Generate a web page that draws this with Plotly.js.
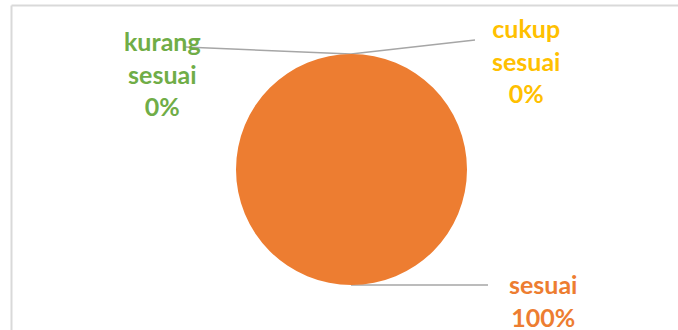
<!DOCTYPE html>
<html>
<head>
<meta charset="utf-8">
<script src="https://cdn.plot.ly/plotly-3.0.1.min.js"></script>
<style>html,body{margin:0;padding:0;background:#fff;}#chart{width:678px;height:330px;}</style>
</head>
<body>
<div id="chart"></div>
<script>
const categories = ["kurang sesuai", "cukup sesuai", "sesuai"];
const labelLines = [["kurang", "sesuai"], ["cukup", "sesuai"], ["sesuai"]];
const values = [0, 0, 100];
const colors = ["#70AD47", "#FFC000", "#ED7D31"];

const total = values.reduce((a, b) => a + b, 0);
const pct = values.map(v => Math.round(v / total * 100) + "%");

// label anchor positions (paper coords) and leader lines
const W = 678, H = 330;
const labelPos = [[162, 73], [526, 60], [543, 300]];
const leaders = [
  [[185, 47], [351, 54]],
  [[475, 40], [351, 54]],
  [[488, 285], [351, 285]]
];

const annotations = categories.map((c, i) => ({
  xref: "paper", yref: "paper",
  x: labelPos[i][0] / W, y: 1 - labelPos[i][1] / H,
  xanchor: "center", yanchor: "middle",
  showarrow: false, align: "center",
  text: labelLines[i].concat([pct[i]]).join("<br>"),
  font: {family: "Lato, 'Open Sans', sans-serif", size: 25, color: colors[i], weight: "bold"}
}));

const shapes = leaders.map(l => ({
  type: "line", xref: "paper", yref: "paper",
  x0: l[0][0] / W, y0: 1 - l[0][1] / H, x1: l[1][0] / W, y1: 1 - l[1][1] / H,
  line: {color: "#A6A6A6", width: 1.5}, layer: "below"
}));
// chart frame
shapes.push({type: "line", xref: "paper", yref: "paper", x0: 11.5 / W, x1: 1, y0: 1 - 5.5 / H, y1: 1 - 5.5 / H, line: {color: "#D9D9D9", width: 2}});
shapes.push({type: "line", xref: "paper", yref: "paper", x0: 11.5 / W, x1: 11.5 / W, y0: 0, y1: 1 - 5.5 / H, line: {color: "#D9D9D9", width: 2}});

const data = [{
  type: "pie",
  labels: categories,
  values: values,
  marker: {colors: colors, line: {width: 0}},
  sort: false,
  direction: "clockwise",
  rotation: 0,
  textinfo: "none",
  hoverinfo: "label+percent",
  domain: {x: [236 / W, 467 / W], y: [(H - 285) / H, (H - 54) / H]}
}];

const layout = {
  width: W, height: H,
  margin: {l: 0, r: 0, t: 0, b: 0},
  paper_bgcolor: "#fff",
  showlegend: false,
  annotations: annotations,
  shapes: shapes
};

Plotly.newPlot("chart", data, layout, {displayModeBar: false, staticPlot: true});
</script>
</body>
</html>
